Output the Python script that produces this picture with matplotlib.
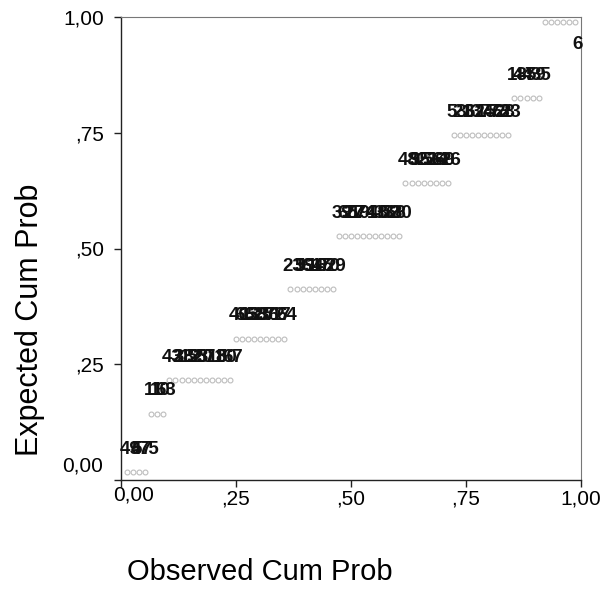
import matplotlib
matplotlib.use("Agg")
import matplotlib.pyplot as plt

# ---------------- data ----------------
observed_cum_prob = [
    0.013, 0.026, 0.039, 0.053,                                              # group 1
    0.066, 0.079, 0.092,                                                     # group 2
    0.105, 0.118, 0.132, 0.145, 0.158, 0.171, 0.184, 0.197, 0.211, 0.224, 0.237,  # group 3
    0.250, 0.263, 0.276, 0.289, 0.303, 0.316, 0.329, 0.342, 0.355,           # group 4
    0.368, 0.382, 0.395, 0.408, 0.421, 0.434, 0.447, 0.461,                  # group 5
    0.474, 0.487, 0.500, 0.513, 0.526, 0.539, 0.553, 0.566, 0.579, 0.592, 0.605,  # group 6
    0.618, 0.632, 0.645, 0.658, 0.671, 0.684, 0.697, 0.711,                  # group 7
    0.724, 0.737, 0.750, 0.763, 0.776, 0.789, 0.803, 0.816, 0.829, 0.842,    # group 8
    0.855, 0.868, 0.882, 0.895, 0.908,                                       # group 9
    0.921, 0.934, 0.947, 0.961, 0.974, 0.987,                                # group 10
]
expected_cum_prob = [
    0.017, 0.017, 0.017, 0.017,
    0.143, 0.143, 0.143,
    0.216, 0.216, 0.216, 0.216, 0.216, 0.216, 0.216, 0.216, 0.216, 0.216, 0.216,
    0.305, 0.305, 0.305, 0.305, 0.305, 0.305, 0.305, 0.305, 0.305,
    0.412, 0.412, 0.412, 0.412, 0.412, 0.412, 0.412, 0.412,
    0.527, 0.527, 0.527, 0.527, 0.527, 0.527, 0.527, 0.527, 0.527, 0.527, 0.527,
    0.641, 0.641, 0.641, 0.641, 0.641, 0.641, 0.641, 0.641,
    0.745, 0.745, 0.745, 0.745, 0.745, 0.745, 0.745, 0.745, 0.745, 0.745,
    0.825, 0.825, 0.825, 0.825, 0.825,
    0.990, 0.990, 0.990, 0.990, 0.990, 0.990,
]
case_labels = [
    "49", "4", "57", "75",
    "11", "10", "63",
    "43", "2", "38", "12", "55", "20", "31", "71", "8", "50", "67",
    "40", "66", "13", "58", "25", "36", "72", "17", "64",
    "23", "5", "39", "61", "16", "45", "70", "29",
    "39", "65", "27", "19", "74", "1", "48", "33", "52", "68", "30",
    "48", "9", "35", "22", "56", "14", "69", "26",
    "53", "21", "3", "62", "37", "15", "46", "73", "28", "23",
    "18", "44", "7", "59", "35",
    "", "", "", "", "", "6",
]
tick_values = [0.0, 0.25, 0.50, 0.75, 1.0]
tick_labels = ["0,00", ",25", ",50", ",75", "1,00"]
x_title = "Observed Cum Prob"
y_title = "Expected Cum Prob"

# ---------------- figure ----------------
plt.rcParams["font.family"] = ["Liberation Sans", "DejaVu Sans"]
fig = plt.figure(figsize=(6.07, 5.89), dpi=100)
ax = fig.add_axes([121 / 607, 1 - 480 / 589, 460 / 607, 463 / 589])
ax.set_xlim(0, 1)
ax.set_ylim(0, 1)

ax.plot(observed_cum_prob, expected_cum_prob, linestyle="none", marker="o",
        ms=3.5, mfc="none", mec="#bdbdbd", mew=0.8, zorder=2)

for xv, yv, lab in zip(observed_cum_prob, expected_cum_prob, case_labels):
    if not lab:
        continue
    dy = -16.5 if yv > 0.95 else 16.5
    ax.annotate(lab, xy=(xv, yv), xytext=(2, dy), textcoords="offset points",
                ha="center", va="center", fontsize=13.5, fontweight="bold",
                color="#111111", annotation_clip=False, zorder=3)

ax.set_xticks(tick_values)
ax.set_yticks(tick_values)
ax.set_xticklabels([""] + tick_labels[1:])
ax.set_yticklabels([""] + tick_labels[1:])
ax.tick_params(axis="both", direction="out", length=5, width=1, colors="#222222",
               labelsize=15, labelcolor="black")
ax.tick_params(axis="y", pad=7)
ax.tick_params(axis="x", pad=1.5)
# SPSS shifts the two "0,00" labels away from the corner
ax.annotate(tick_labels[0], xy=(0, 0), xycoords="axes fraction", xytext=(-13, 10),
            textcoords="offset points", ha="right", va="center", fontsize=15)
ax.annotate(tick_labels[0], xy=(0, 0), xycoords="axes fraction", xytext=(9, -11),
            textcoords="offset points", ha="center", va="center", fontsize=15)

for side in ["left", "bottom"]:
    ax.spines[side].set_color("#222222")
    ax.spines[side].set_linewidth(1.0)
for side in ["top", "right"]:
    ax.spines[side].set_color("#777777")
    ax.spines[side].set_linewidth(0.8)

fig.text(260 / 607, 1 - 572 / 589, x_title, ha="center", va="center", fontsize=21)
fig.text(30 / 607, 1 - 320 / 589, y_title, ha="center", va="center",
         rotation=90, fontsize=22)

fig.savefig("out.png", dpi=100, facecolor="white")
